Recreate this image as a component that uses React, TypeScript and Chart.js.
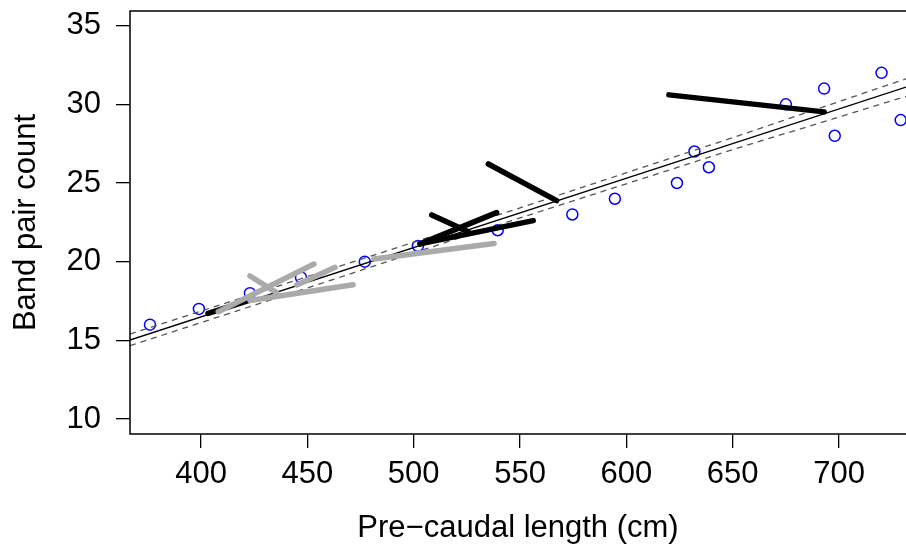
import { useEffect, useRef } from "react";
import { Chart, registerables } from "chart.js";

Chart.register(...registerables);

// Axis ticks
const xTicks = [400, 450, 500, 550, 600, 650, 700];
const yTicks = [10, 15, 20, 25, 30, 35];
const xRange = [366.6, 731.5];
const yRange = [9.05, 35.93];

// Observed points (pre-caudal length vs band pair count)
const pointX = [376, 399, 423, 447, 477, 502, 539.5, 574.6, 594.6, 623.8, 638.8, 632, 698, 729, 675, 693, 720];
const pointY = [16, 17, 18, 19, 20, 21, 22, 23, 24, 25, 26, 27, 28, 29, 30, 31, 32];

// Fitted line and confidence band
const fitX = [366.6, 731.5];
const fitY = [15.02, 31.09];
const bandX = [366.6, 450, 550, 650, 731.5];
const upperY = [15.4, 19.05, 23.42, 27.88, 31.62];
const lowerY = [14.66, 18.33, 22.78, 27.12, 30.5];

// Black track segments
const blackX0 = [620.0, 535.1, 508.5, 503.0, 503.0, 403.3];
const blackY0 = [30.6, 26.21, 22.97, 21.13, 21.13, 16.71];
const blackX1 = [693.0, 567.2, 525.7, 539.0, 556.2, 423.0];
const blackY1 = [29.52, 23.88, 21.91, 23.12, 22.61, 17.56];

// Grey track segments
const greyX0 = [481.3, 423.0, 408.1, 445.0, 423.0];
const greyY0 = [20.17, 19.09, 16.82, 18.52, 17.53];
const greyX1 = [537.8, 435.5, 453.1, 463.0, 471.5];
const greyY1 = [21.16, 18.03, 19.85, 19.64, 18.54];

const FONT = "'Liberation Sans', Arial, Helvetica, sans-serif";

export default function App() {
  const ref = useRef<HTMLCanvasElement>(null);

  useEffect(() => {
    document.body.style.margin = "0";
    document.documentElement.style.overflow = "hidden";
    const canvas = ref.current;
    if (!canvas) return;

    const seg = (x0: number, y0: number, x1: number, y1: number, color: string, order: number) => ({
      type: "line" as const,
      data: [
        { x: x0, y: y0 },
        { x: x1, y: y1 },
      ],
      borderColor: color,
      backgroundColor: color,
      borderWidth: 5.5,
      borderCapStyle: "round" as const,
      pointRadius: 0,
      pointHoverRadius: 0,
      fill: false,
      order,
    });

    const datasets: any[] = [];
    greyX0.forEach((_, i) => datasets.push(seg(greyX0[i], greyY0[i], greyX1[i], greyY1[i], "#aaaaaa", 1)));
    blackX0.forEach((_, i) => datasets.push(seg(blackX0[i], blackY0[i], blackX1[i], blackY1[i], "#000000", 2)));
    datasets.push({
      type: "line",
      data: fitX.map((x, i) => ({ x, y: fitY[i] })),
      borderColor: "#000",
      borderWidth: 1.3,
      pointRadius: 0,
      pointHoverRadius: 0,
      fill: false,
      order: 3,
    });
    datasets.push({
      type: "line",
      data: bandX.map((x, i) => ({ x, y: upperY[i] })),
      borderColor: "#555",
      borderWidth: 1.3,
      borderDash: [6, 5],
      pointRadius: 0,
      pointHoverRadius: 0,
      fill: false,
      order: 4,
    });
    datasets.push({
      type: "line",
      data: bandX.map((x, i) => ({ x, y: lowerY[i] })),
      borderColor: "#555",
      borderWidth: 1.3,
      borderDash: [6, 5],
      pointRadius: 0,
      pointHoverRadius: 0,
      fill: false,
      order: 4,
    });
    datasets.push({
      type: "scatter",
      data: pointX.map((x, i) => ({ x, y: pointY[i] })),
      borderColor: "#0000ff",
      backgroundColor: "rgba(0,0,0,0)",
      pointRadius: 5.5,
      pointBorderWidth: 1.5,
      pointStyle: "circle",
      showLine: false,
      order: 5,
    });

    const boxPlugin = {
      id: "box",
      afterDraw(chart: any) {
        const { ctx, chartArea } = chart;
        const { left, top, right, bottom } = chartArea;
        ctx.save();
        ctx.strokeStyle = "#000";
        ctx.lineWidth = 1.5;
        ctx.beginPath();
        ctx.moveTo(right + 2, top);
        ctx.lineTo(left, top);
        ctx.lineTo(left, bottom);
        ctx.lineTo(right + 2, bottom);
        ctx.stroke();
        ctx.restore();
      },
    };

    const chart = new Chart(canvas, {
      type: "scatter",
      data: { datasets },
      plugins: [boxPlugin],
      options: {
        responsive: false,
        animation: false,
        layout: { autoPadding: false, padding: { top: 11, left: 0, right: 0, bottom: 0 } },
        plugins: { legend: { display: false }, tooltip: { enabled: false } },
        scales: {
          x: {
            type: "linear",
            min: xRange[0],
            max: xRange[1],
            afterBuildTicks: (s: any) => {
              s.ticks = xTicks.map((v) => ({ value: v }));
            },
            afterFit: (s: any) => {
              s.height = 118;
              s.paddingLeft = 0;
              s.paddingRight = 0;
            },
            grid: {
              display: true,
              drawOnChartArea: false,
              drawTicks: true,
              tickLength: 14,
              color: "#000",
              lineWidth: 1.3,
            },
            border: { display: false },
            ticks: {
              color: "#000",
              padding: 10.5,
              maxRotation: 0,
              autoSkip: false,
              font: { family: FONT, size: 31, lineHeight: 1 },
              callback: (v: any) => String(v),
            },
            title: {
              display: true,
              text: "Pre\u2212caudal length (cm)",
              color: "#000",
              font: { family: FONT, size: 31, lineHeight: 1 },
              padding: { top: 0, bottom: 8.5 },
            },
          },
          y: {
            type: "linear",
            min: yRange[0],
            max: yRange[1],
            afterBuildTicks: (s: any) => {
              s.ticks = yTicks.map((v) => ({ value: v }));
            },
            afterFit: (s: any) => {
              s.width = 130;
              s.paddingTop = 0;
              s.paddingBottom = 0;
            },
            grid: {
              display: true,
              drawOnChartArea: false,
              drawTicks: true,
              tickLength: 14,
              color: "#000",
              lineWidth: 1.3,
            },
            border: { display: false },
            ticks: {
              color: "#000",
              padding: 15,
              autoSkip: false,
              font: { family: FONT, size: 31, lineHeight: 1 },
              callback: (v: any) => String(v),
            },
            title: {
              display: true,
              text: "Band pair count",
              color: "#000",
              font: { family: FONT, size: 31, lineHeight: 1 },
              padding: { top: 10.5, bottom: 0 },
            },
          },
        },
      },
    } as any);

    return () => chart.destroy();
  }, []);

  return <canvas ref={ref} width={906} height={552} style={{ display: "block" }} />;
}
